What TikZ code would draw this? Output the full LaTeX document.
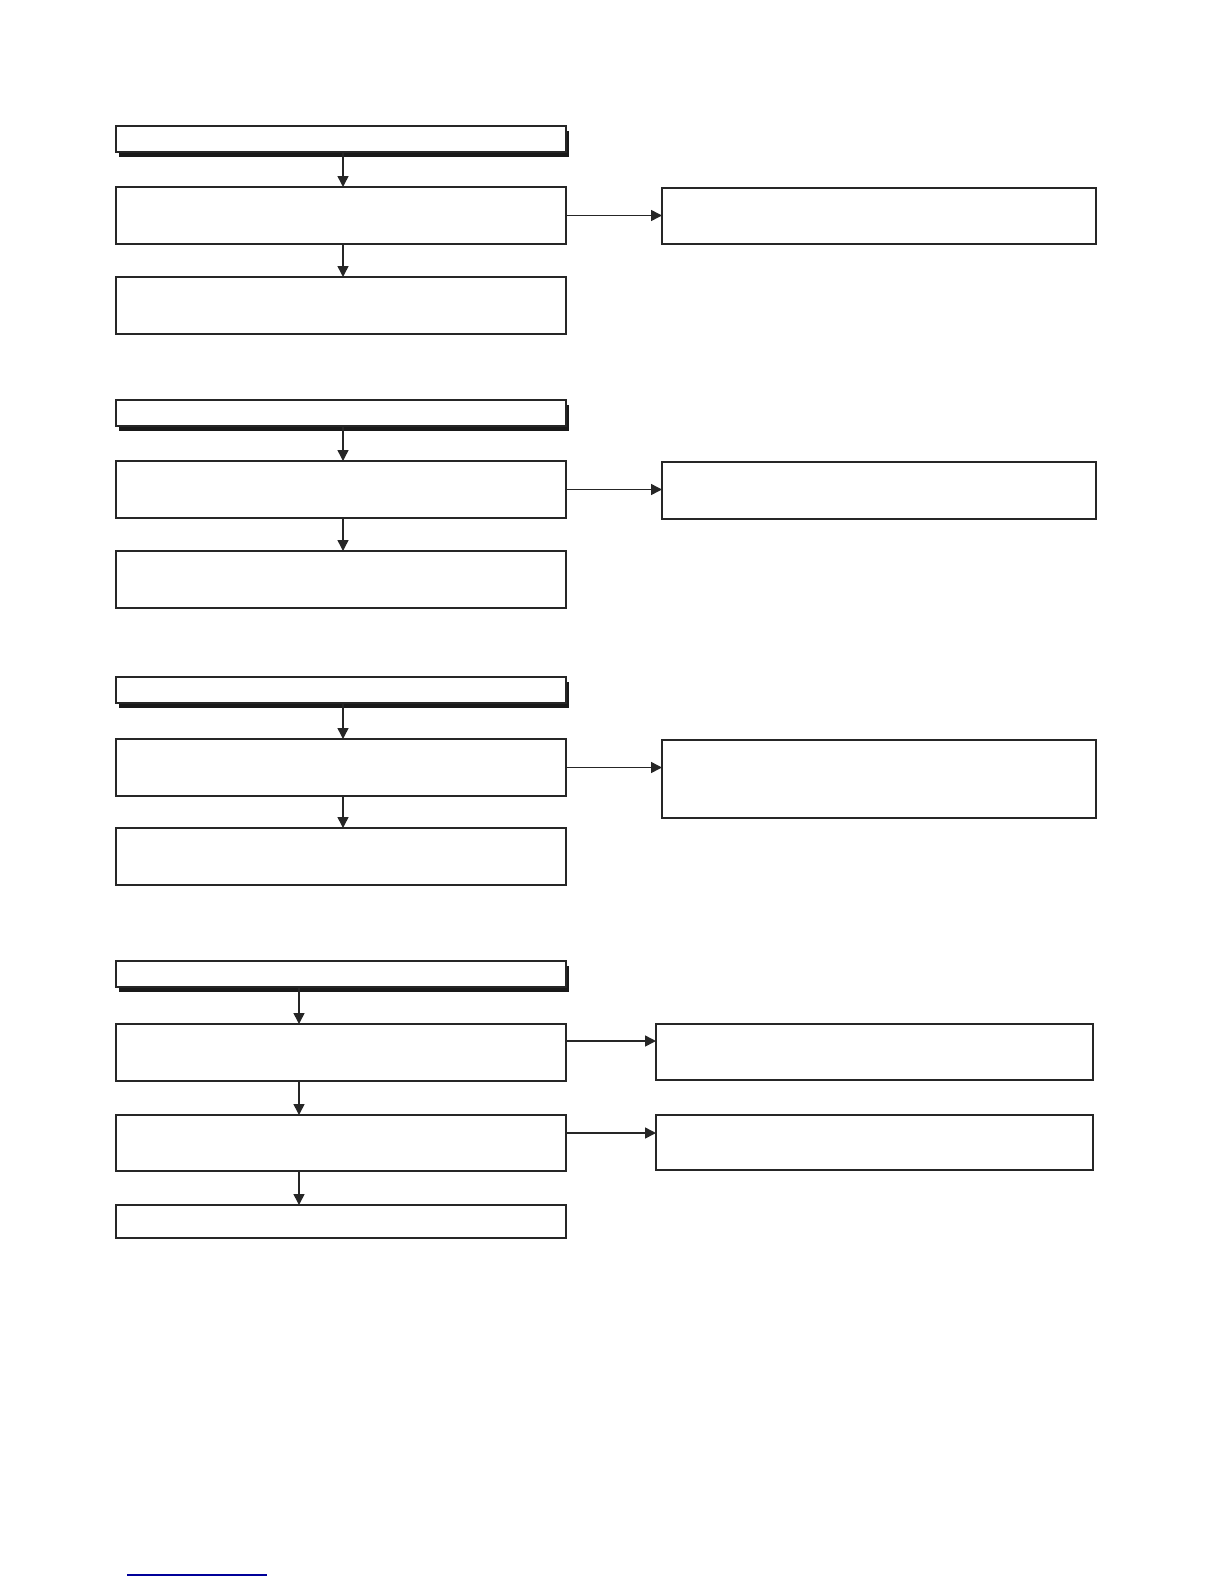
\documentclass[tikz,border=0pt]{standalone}
\usetikzlibrary{arrows.meta,shadows}

\begin{document}
\begin{tikzpicture}[
   x=1pt, y=-1pt,
   every node/.append style={inner sep=0pt, outer sep=0pt},
   box/.style={draw=black!85, line width=1.5pt, fill=white, anchor=north west,
               minimum width=450pt, minimum height=57pt},
   sidebox/.style={box, minimum width=434pt},
   head/.style={box, minimum height=26pt,
                drop shadow={shadow xshift=3pt, shadow yshift=-5pt,
                             fill=black!90, opacity=1}},
   arr/.style={-{Triangle[length=11pt,width=11pt]}, draw=black!85, line width=1.5pt}
]
\useasboundingbox (0,0) rectangle (1224,1584);

% first group
\coordinate (c1) at (343,0);
\node[head] (h1)  at (116,126) {};
\node[box]  (b1a) at (116,187) {};
\node[box]  (b1b) at (116,277) {};
\node[sidebox, minimum height=56pt] (r1) at (662,188) {};
\draw[arr] (h1.south -| c1) -- (b1a.north -| c1);
\draw[arr] (b1a.south -| c1) -- (b1b.north -| c1);
\draw[arr] (b1a.east) -- (r1.west |- b1a.east);

% second group
\node[head] (h2)  at (116,400) {};
\node[box]  (b2a) at (116,461) {};
\node[box]  (b2b) at (116,551) {};
\node[sidebox] (r2) at (662,462) {};
\draw[arr] (h2.south -| c1) -- (b2a.north -| c1);
\draw[arr] (b2a.south -| c1) -- (b2b.north -| c1);
\draw[arr] (b2a.east) -- (r2.west |- b2a.east);

% third group
\node[head] (h3)  at (116,677) {};
\node[box]  (b3a) at (116,739) {};
\node[box]  (b3b) at (116,828) {};
\node[sidebox, minimum height=78pt] (r3) at (662,740) {};
\draw[arr] (h3.south -| c1) -- (b3a.north -| c1);
\draw[arr] (b3a.south -| c1) -- (b3b.north -| c1);
\draw[arr] (b3a.east) -- (r3.west |- b3a.east);

% fourth group
\coordinate (c4) at (299,0);
\node[head] (h4)  at (116,961) {};
\node[box]  (b4a) at (116,1024) {};
\node[box, minimum height=56pt] (b4b) at (116,1115) {};
\node[box, minimum height=33pt] (b4c) at (116,1205) {};
\node[sidebox, minimum width=437pt, minimum height=56pt] (r4a) at (656,1024) {};
\node[sidebox, minimum width=437pt, minimum height=55pt] (r4b) at (656,1115) {};
\draw[arr] (h4.south -| c4) -- (b4a.north -| c4);
\draw[arr] (b4a.south -| c4) -- (b4b.north -| c4);
\draw[arr] (b4b.south -| c4) -- (b4c.north -| c4);
\draw[arr] ([yshift=-17pt]b4a.north east) -- ([yshift=-17pt]r4a.north west);
\draw[arr] ([yshift=-18pt]b4b.north east) -- ([yshift=-18pt]r4b.north west);

% rule at the foot
\coordinate (f1) at (127,1575);
\coordinate (f2) at (267,1575);
\draw[blue!60!black, line width=1.2pt] (f1) -- (f2);
\end{tikzpicture}
\end{document}
